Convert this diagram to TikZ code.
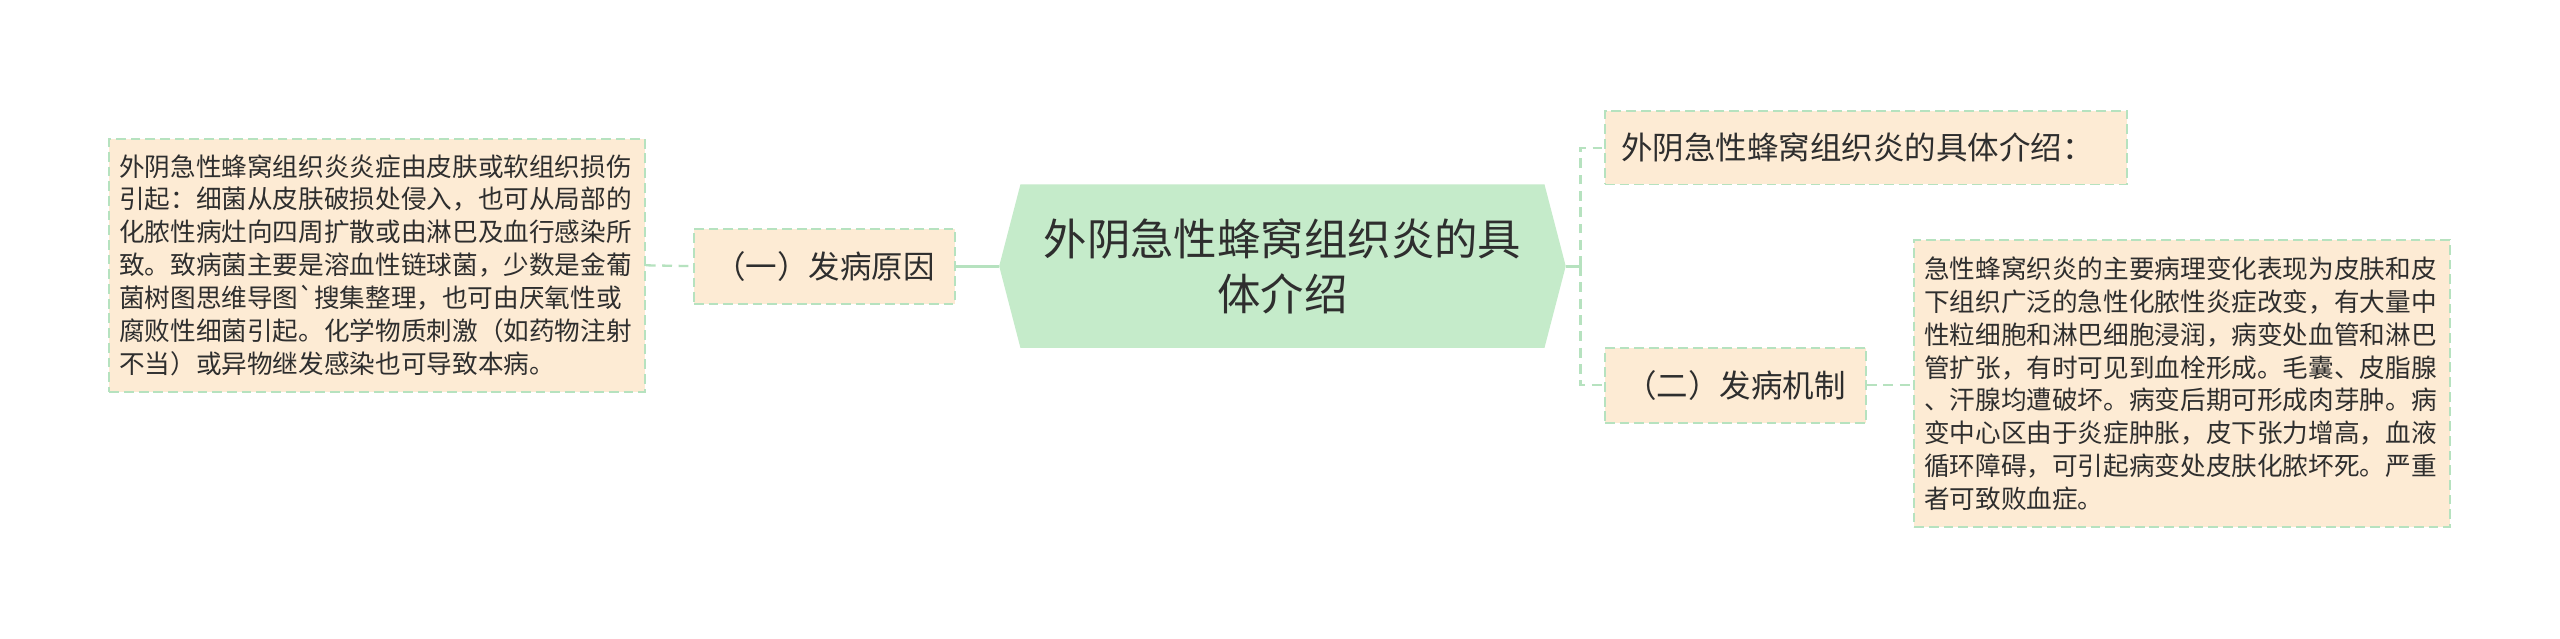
\documentclass[tikz,border=0pt]{standalone}
\usepackage{fontspec}
\setmainfont{Noto Sans CJK SC}
\newfontfamily\rawcjk{Noto Sans CJK SC}[Ligatures=TeXOff]
\definecolor{boxfill}{HTML}{FDEBD4}
\definecolor{edge}{HTML}{B6E2BF}
\definecolor{hexfill}{HTML}{C5EBCA}
\definecolor{ink}{HTML}{2E2E2E}
\begin{document}
\begin{tikzpicture}[x=1pt,y=-1pt,
  leaf/.style={draw=edge, fill=boxfill, dash pattern=on 6pt off 3pt, line width=1.2pt, text=ink, inner ysep=0pt},
  conn/.style={draw=edge, line width=1.8pt},
  dconn/.style={draw=edge, line width=1.4pt, dash pattern=on 6pt off 4pt},
  body/.style={font=\fontsize{15.7}{20.2}\selectfont, align=left, text width=316pt, inner xsep=6pt},
  lab/.style={font=\fontsize{19.3}{24}\selectfont, inner xsep=0pt}]
\useasboundingbox (0,0) rectangle (1568,390.8);
\fill[white] (0,0) rectangle (1568,390.8);

% root hexagon
\coordinate (hl) at (612,163);
\coordinate (hr) at (959,163);
\fill[hexfill] (hl) -- (625,113) -- (946,113) -- (hr) -- (946,213) -- (625,213) -- cycle;
\node[text=ink, font=\fontsize{26.6}{34}\selectfont, align=center] (root) at (785.5,163) {外阴急性蜂窝组织炎的具\\体介绍};

% left side
\node[leaf, lab, minimum width=160pt, minimum height=46pt] (b1) at (505,163) {（一）发病原因};
\node[leaf, body, minimum height=155pt] (lb) at (231,162.5) {外阴急性蜂窝组织炎炎症由皮肤或软组织损伤\\引起：细菌从皮肤破损处侵入，也可从局部的\\化脓性病灶向四周扩散或由淋巴及血行感染所\\致。致病菌主要是溶血性链球菌，少数是金葡\\菌树图思维导图{\rawcjk `}搜集整理，也可由厌氧性或\\腐败性细菌引起。化学物质刺激（如药物注射\\不当）或异物继发感染也可导致本病。};

% right side
\node[leaf, font=\fontsize{19.3}{24}\selectfont, text width=300pt, align=left, inner xsep=10pt, minimum height=45pt] (tr) at (1143,90.5) {外阴急性蜂窝组织炎的具体介绍：};
\node[leaf, lab, minimum width=160pt, minimum height=46pt] (b2) at (1063,236) {（二）发病机制};
\node[leaf, body, minimum height=176pt] (rb) at (1336.5,235) {急性蜂窝织炎的主要病理变化表现为皮肤和皮\\下组织广泛的急性化脓性炎症改变，有大量中\\性粒细胞和淋巴细胞浸润，病变处血管和淋巴\\管扩张，有时可见到血栓形成。毛囊、皮脂腺\\、汗腺均遭破坏。病变后期可形成肉芽肿。病\\变中心区由于炎症肿胀，皮下张力增高，血液\\循环障碍，可引起病变处皮肤化脓坏死。严重\\者可致败血症。};

% connectors
\coordinate (j) at (968,163);
\draw[dconn] (lb.east) -- (b1.west);
\draw[conn] (b1.east) -- (hl);
\draw[conn] (hr) -- (j);
\draw[dconn] (j) |- (tr.west);
\draw[dconn] (j) |- (b2.west);
\draw[dconn] (b2.east) -- (rb.west |- b2.east);
\end{tikzpicture}
\end{document}
